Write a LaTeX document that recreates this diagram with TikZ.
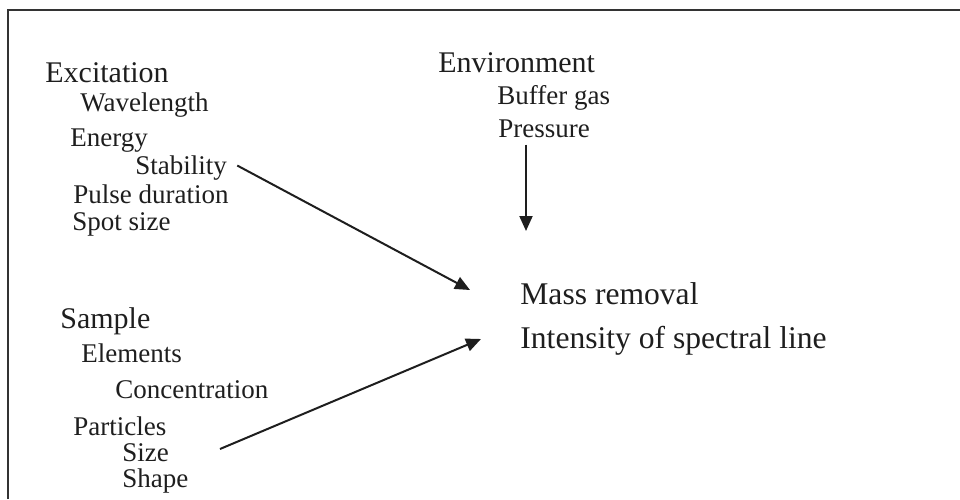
\documentclass[tikz,border=0pt]{standalone}
\usepackage{fontspec}
\setmainfont{Liberation Serif}
\usepackage{xcolor}
\usetikzlibrary{arrows.meta,positioning}
\definecolor{ink}{HTML}{1E1E1E}
\tikzset{
  head/.style={anchor=base west, inner sep=0pt, text=ink,
    font=\fontsize{15}{18}\selectfont},
  item/.style={anchor=base west, inner sep=0pt, text=ink,
    font=\fontsize{13.5}{16}\selectfont},
  result/.style={anchor=base west, inner sep=0pt, text=ink,
    font=\fontsize{15.8}{19}\selectfont},
  flow/.style={-{Triangle[length=7.5pt,width=6.5pt]}, line width=1pt, draw=ink},
  frame/.style={line width=1.3pt, draw=black!80}
}

\begin{document}
\begin{tikzpicture}[x=0.5pt,y=-0.5pt]
  \useasboundingbox (0,0) rectangle (960,499);
  \draw[frame] (8,499) -- (8,10) -- (960,10);

  % excitation group
  \node[head] (exc) at (45,82) {Excitation};
  \node[item] (wavel) at (80,111) {Wavelength};
  \node[item] (energy) at (70,146) {Energy};
  \node[item] (stab) at (135,174) {Stability};
  \node[item] (pulse) at (73,203) {Pulse duration};
  \node[item] (spot) at (72,230) {Spot size};

  % environment group
  \node[head] (env) at (438,72) {Environment};
  \node[item] (buffer) at (497,104) {Buffer gas};
  \node[item] (press) at (498,137) {Pressure};

  % sample group
  \node[head] (sample) at (60,328) {Sample};
  \node[item] (elem) at (81,362) {Elements};
  \node[item] (conc) at (115,398) {Concentration};
  \node[item] (part) at (73,435) {Particles};
  \node[item] (size) at (122,461) {Size};
  \node[item] (shape) at (122,487) {Shape};

  % results
  \node[result] (mass) at (520,304) {Mass removal};
  \node[result] (intens) at (520,348) {Intensity of spectral line};

  \coordinate (in1) at (470,290);
  \coordinate (in2) at (481,339);
  \coordinate (in3) at (526,231);
  \coordinate (out2) at (220,449);

  \draw[flow] ([xshift=5pt,yshift=1pt]stab.east) -- (in1);
  \draw[flow] (press.south -| in3) ++(0,7) -- (in3);
  \draw[flow] (out2) -- (in2);
\end{tikzpicture}
\end{document}
